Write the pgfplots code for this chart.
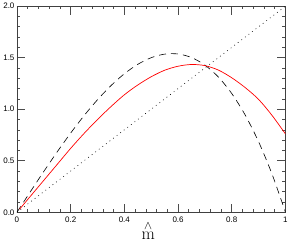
\documentclass[border=0pt]{standalone}
\usepackage[no-math]{fontspec}
\setmainfont{Liberation Sans}
\usepackage{pgfplots}
\pgfplotsset{compat=1.18}
\begin{document}
\begin{tikzpicture}
\begin{axis}[
  scale only axis,
  width=269pt, height=206.5pt,
  xmin=0, xmax=1, ymin=0, ymax=2,
  xtick={0,0.2,0.4,0.6,0.8,1},
  xticklabels={0,0.2,0.4,0.6,0.8,1},
  ytick={0,0.5,1,1.5,2},
  yticklabels={0.0,0.5,1.0,1.5,2.0},
  minor x tick num=4,
  minor y tick num=4,
  tick align=inside,
  major tick length=8.5pt,
  minor tick length=3pt,
  axis line style={black!75, line width=0.6pt},
  every tick/.style={black!70, line width=0.6pt},
  /pgf/number format/assume math mode=true,
  ticklabel style={font=\fontsize{8}{8}\selectfont},
  xticklabel style={yshift=-1pt},
  yticklabel style={xshift=1pt},
  xlabel={\fontsize{17}{17}\selectfont$\stackrel{\wedge}{\mathrm{m}}$},
  xlabel style={yshift=7pt, xshift=-3pt},
]
\addplot[black, line width=0.6pt, dash pattern=on 0.8pt off 3.7pt] coordinates {(0,0) (1,2)};
\addplot[black, line width=0.6pt, dash pattern=on 7pt off 5pt, smooth] coordinates {
(0,0) (0.05,0.1995) (0.1,0.396) (0.15,0.5865) (0.2,0.768) (0.25,0.9375) (0.3,1.092)
(0.35,1.2285) (0.4,1.344) (0.45,1.4355) (0.5,1.5) (0.55,1.5345) (0.6,1.536)
(0.65,1.5015) (0.7,1.428) (0.75,1.3125) (0.8,1.152) (0.85,0.9435) (0.9,0.684)
(0.95,0.3705) (1,0)};
\addplot[red, line width=0.7pt, smooth, tension=0.5] coordinates {
(0.01,0.03) (0.05,0.155) (0.10,0.31) (0.15,0.465) (0.20,0.62) (0.25,0.765)
(0.30,0.90) (0.35,1.025) (0.40,1.14) (0.45,1.235) (0.50,1.315) (0.55,1.378)
(0.60,1.417) (0.65,1.434) (0.70,1.423) (0.75,1.38) (0.80,1.305) (0.85,1.21)
(0.90,1.095) (0.95,0.94) (1.00,0.76)};
\end{axis}
\end{tikzpicture}
\end{document}
